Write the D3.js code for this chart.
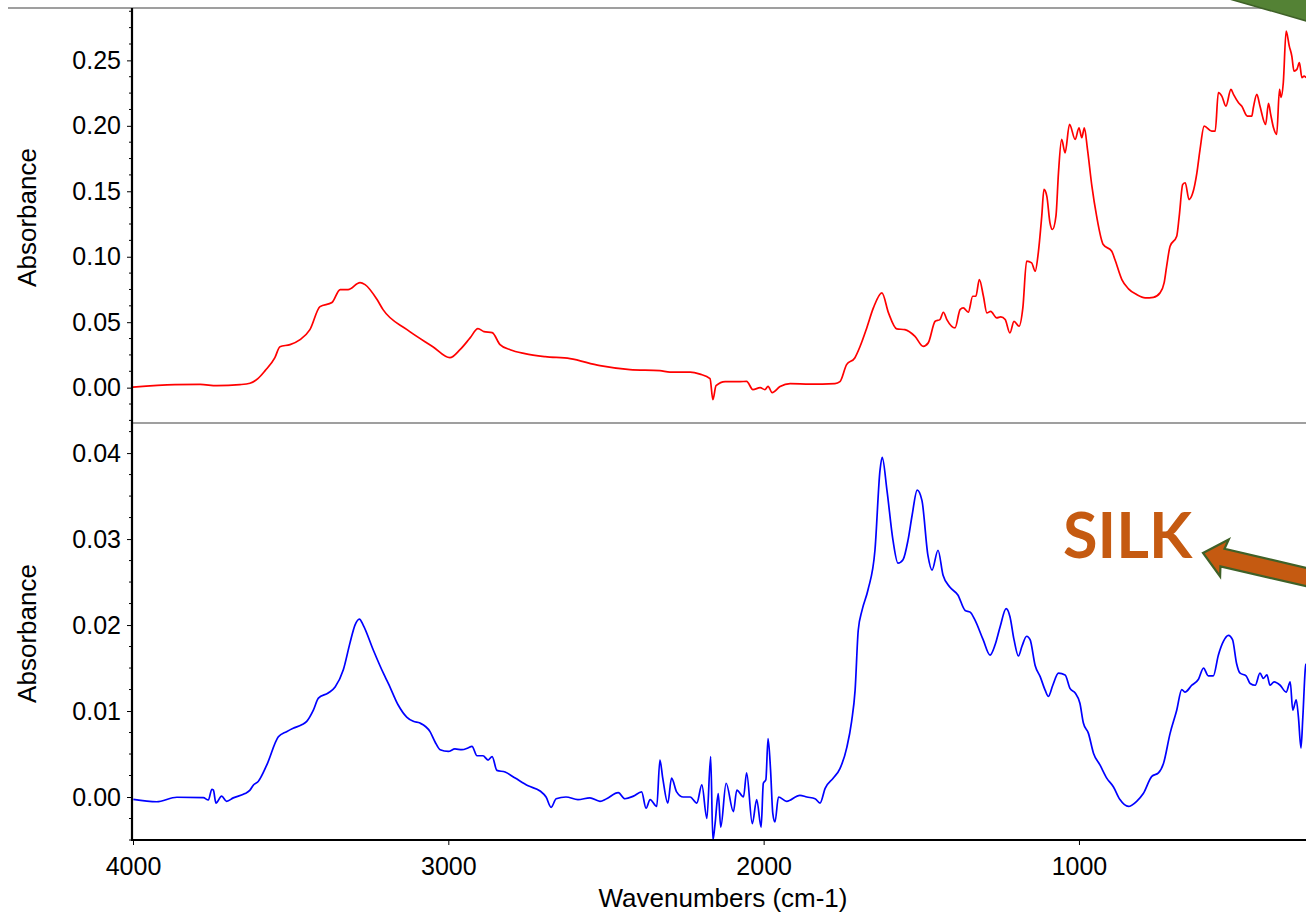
<!DOCTYPE html>
<html>
<head>
<meta charset="utf-8">
<script src="https://cdn.jsdelivr.net/npm/d3@7"></script>
<style>
  body { margin: 0; background: #fff; }
  svg { display: block; font-family: "Liberation Sans", Arial, sans-serif; }
</style>
</head>
<body>
<svg id="chart" width="1306" height="913"></svg>
<script>
// Upper spectrum (red)
const upperWavenumbers = [4000,3867,3787,3734,3661,3629,3604,3581,3550,3534,3502,3470,3439,3407,3369,3343,3318,3280,3264,3226,3207,3131,3049,2995,2963,2931,2906,2887,2861,2836,2804,2757,2693,2614,2519,2424,2329,2297,2233,2202,2170,2161,2151,2122,2075,2054,2034,2011,1996,1986,1973,1948,1916,1853,1774,1758,1737,1711,1694,1673,1652,1625,1604,1578,1552,1520,1494,1478,1456,1441,1430,1419,1393,1377,1367,1351,1337,1327,1316,1303,1292,1280,1261,1248,1234,1219,1206,1190,1178,1166,1150,1139,1129,1118,1111,1102,1092,1084,1073,1065,1055,1044,1030,1012,1000,991,983,973,959,944,923,896,886,864,843,817,790,764,743,730,722,711,690,682,671,663,651,639,626,616,603,579,568,558,547,534,518,510,494,484,466,452,447,436,426,408,399,392,383,373,364,359,352,343,333,325,318,309,301,293,286,280];
const upperAbsorbance = [0.0004,0.0023,0.0025,0.0015,0.0023,0.0034,0.0069,0.0130,0.0229,0.0313,0.0329,0.0367,0.0443,0.0619,0.0650,0.0749,0.0749,0.0803,0.0787,0.0673,0.0596,0.0443,0.0313,0.0229,0.0290,0.0380,0.0451,0.0428,0.0420,0.0329,0.0290,0.0260,0.0237,0.0222,0.0168,0.0138,0.0130,0.0118,0.0118,0.0103,0.0069,-0.0092,0.0015,0.0046,0.0046,0.0048,-0.0015,0.0000,-0.0015,0.0010,-0.0038,0.0008,0.0031,0.0027,0.0031,0.0046,0.0176,0.0227,0.0316,0.0456,0.0609,0.0724,0.0571,0.0449,0.0443,0.0392,0.0316,0.0342,0.0507,0.0520,0.0576,0.0520,0.0456,0.0596,0.0609,0.0576,0.0698,0.0698,0.0826,0.0698,0.0571,0.0583,0.0533,0.0541,0.0520,0.0418,0.0507,0.0469,0.0609,0.0966,0.0953,0.0889,0.1030,0.1310,0.1514,0.1463,0.1259,0.1208,0.1310,0.1641,0.1896,0.1794,0.2011,0.1896,0.1985,0.1909,0.1985,0.1820,0.1539,0.1310,0.1093,0.1042,0.0979,0.0826,0.0755,0.0711,0.0686,0.0690,0.0724,0.0800,0.0927,0.1080,0.1157,0.1310,0.1552,0.1565,0.1437,0.1488,0.1641,0.1820,0.1998,0.1960,0.1960,0.2253,0.2227,0.2151,0.2278,0.2240,0.2177,0.2151,0.2074,0.2074,0.2138,0.2240,0.2151,0.2011,0.2171,0.2087,0.1985,0.1934,0.2278,0.2217,0.2329,0.2724,0.2609,0.2533,0.2418,0.2431,0.2482,0.2368,0.2380,0.2368];

// Lower spectrum (blue)
const lowerWavenumbers = [3999,3925,3861,3777,3761,3750,3745,3737,3719,3703,3682,3645,3629,3618,3603,3576,3539,3513,3492,3465,3449,3428,3412,3381,3359,3333,3312,3296,3282,3270,3238,3206,3190,3159,3132,3111,3090,3058,3042,3026,3000,2979,2957,2938,2925,2909,2890,2874,2861,2846,2820,2788,2747,2709,2690,2674,2658,2627,2589,2551,2519,2498,2461,2440,2413,2387,2373,2360,2339,2329,2320,2304,2292,2276,2255,2233,2212,2196,2180,2168,2161,2154,2144,2136,2119,2096,2085,2064,2054,2036,2022,2008,2001,1993,1986,1978,1971,1964,1953,1927,1885,1863,1837,1821,1805,1779,1758,1736,1721,1710,1700,1688,1669,1647,1631,1624,1609,1590,1574,1558,1542,1529,1513,1498,1479,1466,1447,1431,1409,1384,1361,1345,1330,1304,1282,1266,1250,1231,1219,1206,1192,1181,1166,1155,1139,1123,1107,1097,1083,1065,1044,1028,1012,997,986,970,954,933,912,891,870,843,817,796,769,748,732,711,690,674,664,642,621,605,590,574,558,542,526,513,500,489,470,457,441,426,415,404,394,381,362,343,330,322,311,304,296,290,282,280];
const lowerAbsorbance = [-0.00027,-0.00055,-0.00003,-0.00008,-0.00035,0.0009,0.0008,-0.0007,0.0001,-0.0005,-0.0001,0.0004,0.0008,0.0014,0.0018,0.0037,0.0070,0.0076,0.0080,0.0084,0.0088,0.0101,0.0115,0.0121,0.0128,0.0148,0.0179,0.0200,0.0207,0.0200,0.0171,0.0144,0.0132,0.0107,0.0093,0.0088,0.0086,0.0076,0.0064,0.0055,0.0053,0.0056,0.0055,0.0057,0.0059,0.0048,0.0048,0.0043,0.0047,0.0031,0.0029,0.0022,0.0013,0.0007,0.0000,-0.0012,-0.0002,0.0000,-0.0003,-0.0001,-0.0005,-0.0002,0.0005,-0.0002,0.0001,0.0006,-0.0013,-0.0003,-0.0011,0.0043,0.0022,-0.0007,0.0022,0.0006,0.0000,0.0000,-0.0007,0.0014,-0.0025,0.0047,-0.0050,-0.0031,0.0004,-0.0035,0.0016,-0.0017,0.0008,0.0000,0.0028,-0.0031,-0.0003,-0.0035,0.0016,0.0020,0.0068,0.0031,-0.0019,-0.0029,0.0000,-0.0005,0.0002,0.0000,-0.0002,-0.0007,0.0010,0.0022,0.0033,0.0058,0.0088,0.0124,0.0194,0.0217,0.0241,0.0287,0.0380,0.0395,0.0357,0.0299,0.0272,0.0276,0.0299,0.0328,0.0357,0.0345,0.0281,0.0264,0.0287,0.0258,0.0244,0.0235,0.0217,0.0215,0.0206,0.0183,0.0165,0.0177,0.0198,0.0219,0.0210,0.0183,0.0164,0.0175,0.0187,0.0183,0.0153,0.0140,0.0124,0.0117,0.0130,0.0144,0.0142,0.0126,0.0121,0.0109,0.0086,0.0074,0.0051,0.0037,0.0022,0.0012,-0.0003,-0.0011,-0.0005,0.0004,0.0024,0.0028,0.0039,0.0074,0.0101,0.0125,0.0122,0.0130,0.0137,0.0150,0.0141,0.0141,0.0165,0.0181,0.0188,0.0183,0.0155,0.0144,0.0141,0.0132,0.0130,0.0144,0.0138,0.0142,0.0130,0.0134,0.0130,0.0122,0.0134,0.0101,0.0113,0.0093,0.0057,0.0093,0.0150,0.0155];

const xTickValues = [4000, 3000, 2000, 1000];
const upperTickValues = [0.00, 0.05, 0.10, 0.15, 0.20, 0.25];
const lowerTickValues = [0.00, 0.01, 0.02, 0.03, 0.04];
const xTitle = "Wavenumbers (cm-1)";
const yTitle = "Absorbance";
const annotationText = "SILK";

const left = 133, right = 1306;
const upperTop = 8, split = 423, lowerBottom = 840;
const font = "'Liberation Sans', Arial, sans-serif";

const svg = d3.select("#chart");

const x = d3.scaleLinear().domain([4000, 280]).range([left, right]);
const yUpper = d3.scaleLinear().domain([-0.027, 0.29]).range([split, upperTop]);
const yLower = d3.scaleLinear().domain([-0.005, 0.0435]).range([lowerBottom, split]);

// clip regions for the two panels
const defs = svg.append("defs");
defs.append("clipPath").attr("id", "clipUpper").append("rect")
  .attr("x", left).attr("y", upperTop).attr("width", right - left).attr("height", split - upperTop);
defs.append("clipPath").attr("id", "clipLower").append("rect")
  .attr("x", left).attr("y", split).attr("width", right - left).attr("height", lowerBottom - split);

function drawSpectrum(wn, ab, yScale, color, clipId) {
  const pts = wn.map((w, i) => [w, ab[i]]).sort((a, b) => a[0] - b[0]);
  const line = d3.line()
    .x(d => x(d[0]))
    .y(d => yScale(d[1]))
    .curve(d3.curveMonotoneX);
  svg.append("path")
    .datum(pts)
    .attr("clip-path", `url(#${clipId})`)
    .attr("fill", "none")
    .attr("stroke", color)
    .attr("stroke-width", 1.7)
    .attr("stroke-linejoin", "round")
    .attr("d", line);
}

drawSpectrum(upperWavenumbers, upperAbsorbance, yUpper, "#ff0000", "clipUpper");
drawSpectrum(lowerWavenumbers, lowerAbsorbance, yLower, "#0000ff", "clipLower");

// frame lines
svg.append("line").attr("x1", 8).attr("x2", right).attr("y1", upperTop).attr("y2", upperTop)
  .attr("stroke", "#7f7f7f").attr("stroke-width", 1.6);
svg.append("line").attr("x1", left).attr("x2", right).attr("y1", split).attr("y2", split)
  .attr("stroke", "#7f7f7f").attr("stroke-width", 1.6);

// y axes with quarter-step minor ticks
function drawYAxis(scale, ticks, step) {
  const axis = d3.axisLeft(scale).tickValues(ticks).tickFormat(d3.format(".2f"))
    .tickSizeInner(5).tickSizeOuter(0).tickPadding(6);
  const g = svg.append("g").attr("transform", `translate(${left - 1},0)`).call(axis);
  g.select(".domain").remove();
  g.selectAll(".tick line").attr("stroke", "#000").attr("stroke-width", 1);
  g.selectAll(".tick text").attr("font-size", 25).attr("fill", "#000").attr("font-family", font);
  const [d0, d1] = scale.domain();
  const minor = d3.range(Math.ceil(d0 / step) * step, d1, step)
    .filter(v => ticks.every(t => Math.abs(t - v) > step / 10));
  svg.append("g").selectAll("line").data(minor).join("line")
    .attr("x1", left - 4).attr("x2", left - 1)
    .attr("y1", d => scale(d)).attr("y2", d => scale(d))
    .attr("stroke", "#000").attr("stroke-width", 1);
}
drawYAxis(yUpper, upperTickValues, 0.0125);
drawYAxis(yLower, lowerTickValues, 0.0025);

// y axis spine
svg.append("line").attr("x1", left - 1).attr("x2", left - 1).attr("y1", upperTop).attr("y2", lowerBottom + 1)
  .attr("stroke", "#000").attr("stroke-width", 2.2);

// x axis
const xAxis = d3.axisBottom(x).tickValues(xTickValues).tickFormat(d3.format("d"))
  .tickSizeInner(5).tickSizeOuter(0).tickPadding(12);
const gx = svg.append("g").attr("transform", `translate(0,${lowerBottom})`).call(xAxis);
gx.select(".domain").remove();
gx.selectAll(".tick line").attr("stroke", "#000").attr("stroke-width", 1);
gx.selectAll(".tick text").attr("font-size", 25).attr("fill", "#000").attr("font-family", font);
svg.append("line").attr("x1", left - 2).attr("x2", right).attr("y1", lowerBottom).attr("y2", lowerBottom)
  .attr("stroke", "#000").attr("stroke-width", 2.2);

// axis titles
svg.append("text").attr("x", 723).attr("y", 907)
  .attr("text-anchor", "middle").attr("font-size", 26).attr("font-family", font).text(xTitle);
[[upperTop, split], [split, lowerBottom]].forEach(([a, b]) => {
  svg.append("text")
    .attr("transform", `translate(36,${(a + b) / 2 + 2}) rotate(-90)`)
    .attr("text-anchor", "middle").attr("font-size", 26).attr("font-family", font).text(yTitle);
});

// annotation: label with arrow
svg.append("text").attr("x", 1063).attr("y", 558)
  .attr("font-family", "Lato, 'Open Sans', sans-serif").attr("font-weight", 700)
  .attr("font-size", 63).attr("fill", "#c55a11").text(annotationText);

const tip = [1203, 553];
const ang = Math.atan2(24, 103);
const local = [[0, 0], [22, -19], [20, -9], [150, -9], [150, 9], [20, 9], [22, 19]];
const arrowPts = local.map(([u, v]) => [
  tip[0] + u * Math.cos(ang) - v * Math.sin(ang),
  tip[1] + u * Math.sin(ang) + v * Math.cos(ang)
]);
svg.append("polygon").attr("points", arrowPts.map(p => p.join(",")).join(" "))
  .attr("fill", "#c55a11").attr("stroke", "#3f6128").attr("stroke-width", 2.2)
  .attr("stroke-linejoin", "miter");

// second arrow entering from the top-right corner
svg.append("polygon").attr("points", "1226,-2 1310,-2 1310,22")
  .attr("fill", "#548235").attr("stroke", "#3f6128").attr("stroke-width", 1.5);
</script>
</body>
</html>
